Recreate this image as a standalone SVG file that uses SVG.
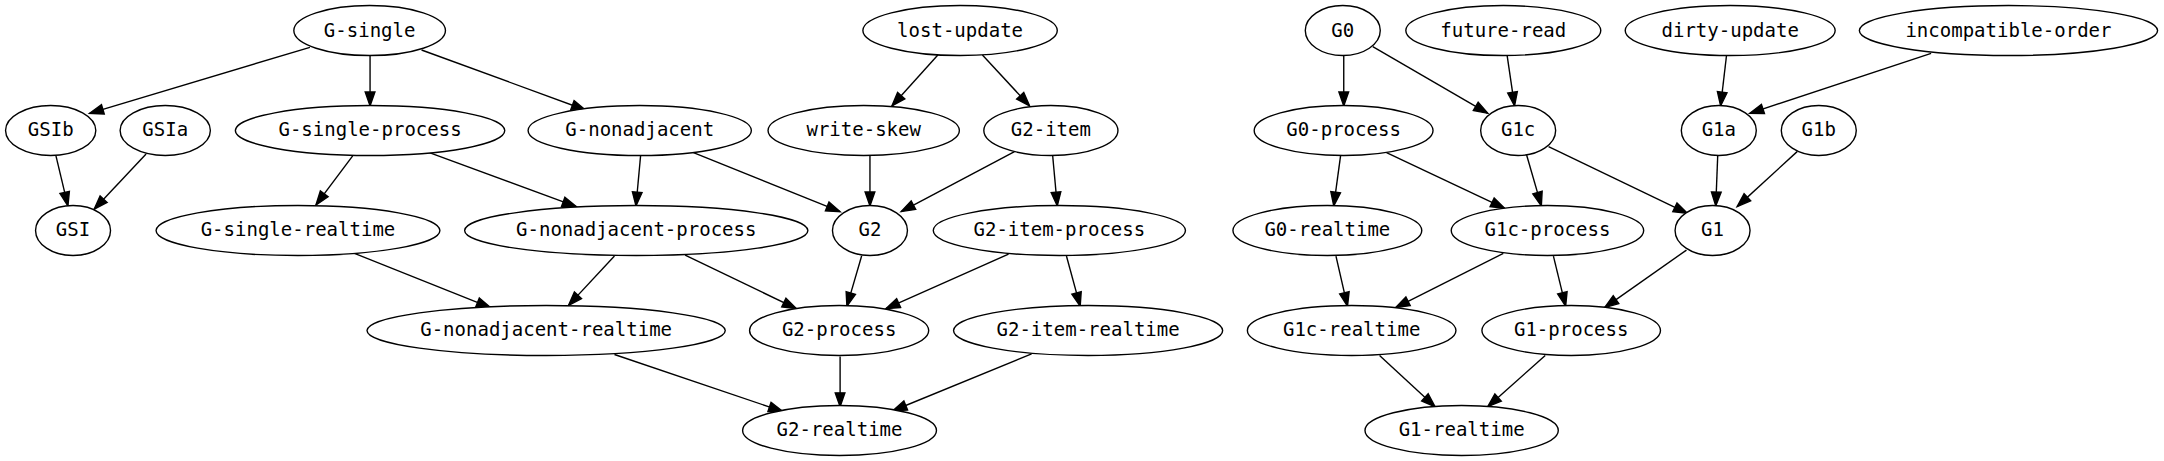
<svg xmlns="http://www.w3.org/2000/svg" width="2164" height="461" viewBox="0 0 2164 461">
<defs>
<marker id="ah" markerUnits="userSpaceOnUse" markerWidth="12" markerHeight="10" refX="10" refY="0" viewBox="0 -5 12 10" orient="auto" overflow="visible">
<path d="M0,-3.5 L10,0 L0,3.5 Z" fill="#000" stroke="#000" stroke-width="1"/>
</marker>
</defs>
<style>
ellipse{fill:#fff;stroke:#000;stroke-width:1}
text{font-family:"DejaVu Sans Mono","Liberation Mono",monospace;font-size:13.7px;text-anchor:middle;fill:#000}
.e line{stroke:#000;stroke-width:1;marker-end:url(#ah)}
</style>
<rect width="2164" height="461" fill="#fff"/>
<g transform="scale(1.3886)">
<g class="e" id="connectors">
<line x1="223.2" y1="34.1" x2="64.5" y2="81.6"/>
<line x1="266.5" y1="40.3" x2="266.5" y2="76.3"/>
<line x1="303.6" y1="36" x2="421.6" y2="79.2"/>
<line x1="40.3" y1="112.3" x2="48.9" y2="148.3"/>
<line x1="105.2" y1="110.9" x2="67.8" y2="150.7"/>
<line x1="254" y1="112.3" x2="227.5" y2="147.6"/>
<line x1="309.2" y1="109.9" x2="415" y2="148.8"/>
<line x1="461.3" y1="112.3" x2="458" y2="148.3"/>
<line x1="499.4" y1="109.9" x2="605" y2="152.4"/>
<line x1="675.4" y1="39.6" x2="642.3" y2="76.3"/>
<line x1="707.5" y1="39.6" x2="741.5" y2="76.3"/>
<line x1="626.5" y1="111.6" x2="626.5" y2="148.3"/>
<line x1="730.6" y1="109.2" x2="649" y2="152.4"/>
<line x1="758.1" y1="112.3" x2="761.4" y2="148.3"/>
<line x1="255.3" y1="182.5" x2="353.2" y2="221.5"/>
<line x1="442.5" y1="184.4" x2="409.4" y2="219.9"/>
<line x1="493.4" y1="183.7" x2="573.5" y2="222.3"/>
<line x1="620.5" y1="184.4" x2="609.9" y2="220.6"/>
<line x1="726.3" y1="183" x2="638" y2="222.3"/>
<line x1="768" y1="184.4" x2="777.9" y2="220.6"/>
<line x1="442.5" y1="255.3" x2="563.6" y2="296.3"/>
<line x1="605" y1="256.7" x2="605" y2="292.9"/>
<line x1="742.9" y1="254.8" x2="643" y2="295.8"/>
<line x1="967.7" y1="40.3" x2="967.7" y2="76.3"/>
<line x1="988.6" y1="33.6" x2="1071.4" y2="81.6"/>
<line x1="1085.4" y1="40.3" x2="1090.7" y2="76.3"/>
<line x1="1243.3" y1="40.3" x2="1239.1" y2="76.3"/>
<line x1="1390.7" y1="38.4" x2="1260.1" y2="81.6"/>
<line x1="965.4" y1="112.3" x2="960.5" y2="148.3"/>
<line x1="998.5" y1="109.9" x2="1083.6" y2="150"/>
<line x1="1099.4" y1="111.6" x2="1110" y2="148.3"/>
<line x1="1115.2" y1="105.6" x2="1215.2" y2="153.6"/>
<line x1="1237" y1="112.3" x2="1235.6" y2="148.3"/>
<line x1="1294.2" y1="109.2" x2="1251" y2="148.8"/>
<line x1="962.1" y1="184.4" x2="970.4" y2="220.6"/>
<line x1="1082.6" y1="182.5" x2="1005.1" y2="221.5"/>
<line x1="1118.7" y1="184.4" x2="1127.5" y2="220.6"/>
<line x1="1214.5" y1="180.1" x2="1155.6" y2="221.5"/>
<line x1="993.5" y1="256" x2="1033.5" y2="292.9"/>
<line x1="1112.8" y1="256" x2="1071.4" y2="292.9"/>
</g>
<g id="G-single"><ellipse cx="266.2" cy="22" rx="54.6" ry="18"/><text x="266.2" y="26.3">G-single</text></g>
<g id="lost-update"><ellipse cx="691.4" cy="22" rx="70" ry="18"/><text x="691.4" y="26.3">lost-update</text></g>
<g id="G0"><ellipse cx="967" cy="22" rx="27" ry="18"/><text x="967" y="26.3">G0</text></g>
<g id="future-read"><ellipse cx="1082.6" cy="22" rx="70.2" ry="18"/><text x="1082.6" y="26.3">future-read</text></g>
<g id="dirty-update"><ellipse cx="1246" cy="22" rx="75.6" ry="18"/><text x="1246" y="26.3">dirty-update</text></g>
<g id="incompatible-order"><ellipse cx="1446.4" cy="22" rx="107.4" ry="18"/><text x="1446.4" y="26.3">incompatible-order</text></g>
<g id="GSIb"><ellipse cx="36.5" cy="94" rx="32.5" ry="18"/><text x="36.5" y="98.3">GSIb</text></g>
<g id="GSIa"><ellipse cx="119" cy="94" rx="32.5" ry="18"/><text x="119" y="98.3">GSIa</text></g>
<g id="G-single-process"><ellipse cx="266.5" cy="94" rx="97" ry="18"/><text x="266.5" y="98.3">G-single-process</text></g>
<g id="G-nonadjacent"><ellipse cx="460.7" cy="94" rx="80.4" ry="18"/><text x="460.7" y="98.3">G-nonadjacent</text></g>
<g id="write-skew"><ellipse cx="622" cy="94" rx="68.9" ry="18"/><text x="622" y="98.3">write-skew</text></g>
<g id="G2-item"><ellipse cx="756.8" cy="94" rx="48.3" ry="18"/><text x="756.8" y="98.3">G2-item</text></g>
<g id="G0-process"><ellipse cx="967.6" cy="94" rx="64.4" ry="18"/><text x="967.6" y="98.3">G0-process</text></g>
<g id="G1c"><ellipse cx="1093.3" cy="94" rx="27" ry="18"/><text x="1093.3" y="98.3">G1c</text></g>
<g id="G1a"><ellipse cx="1237.8" cy="94" rx="27" ry="18"/><text x="1237.8" y="98.3">G1a</text></g>
<g id="G1b"><ellipse cx="1309.8" cy="94" rx="27" ry="18"/><text x="1309.8" y="98.3">G1b</text></g>
<g id="GSI"><ellipse cx="52.6" cy="166" rx="27" ry="18"/><text x="52.6" y="170.3">GSI</text></g>
<g id="G-single-realtime"><ellipse cx="214.6" cy="166" rx="102.2" ry="18"/><text x="214.6" y="170.3">G-single-realtime</text></g>
<g id="G-nonadjacent-process"><ellipse cx="458.2" cy="166" rx="123.6" ry="18"/><text x="458.2" y="170.3">G-nonadjacent-process</text></g>
<g id="G2"><ellipse cx="626.5" cy="166" rx="27" ry="18"/><text x="626.5" y="170.3">G2</text></g>
<g id="G2-item-process"><ellipse cx="762.9" cy="166" rx="90.8" ry="18"/><text x="762.9" y="170.3">G2-item-process</text></g>
<g id="G0-realtime"><ellipse cx="955.9" cy="166" rx="68" ry="18"/><text x="955.9" y="170.3">G0-realtime</text></g>
<g id="G1c-process"><ellipse cx="1114.4" cy="166" rx="69.3" ry="18"/><text x="1114.4" y="170.3">G1c-process</text></g>
<g id="G1"><ellipse cx="1233.3" cy="166" rx="27" ry="18"/><text x="1233.3" y="170.3">G1</text></g>
<g id="G-nonadjacent-realtime"><ellipse cx="393.3" cy="238" rx="129" ry="18"/><text x="393.3" y="242.3">G-nonadjacent-realtime</text></g>
<g id="G2-process"><ellipse cx="604.3" cy="238" rx="64.5" ry="18"/><text x="604.3" y="242.3">G2-process</text></g>
<g id="G2-item-realtime"><ellipse cx="783.6" cy="238" rx="96.9" ry="18"/><text x="783.6" y="242.3">G2-item-realtime</text></g>
<g id="G1c-realtime"><ellipse cx="973.4" cy="238" rx="75.1" ry="18"/><text x="973.4" y="242.3">G1c-realtime</text></g>
<g id="G1-process"><ellipse cx="1131.5" cy="238" rx="64.3" ry="18"/><text x="1131.5" y="242.3">G1-process</text></g>
<g id="G2-realtime"><ellipse cx="604.6" cy="310" rx="69.8" ry="18"/><text x="604.6" y="314.3">G2-realtime</text></g>
<g id="G1-realtime"><ellipse cx="1052.6" cy="310" rx="69.6" ry="18"/><text x="1052.6" y="314.3">G1-realtime</text></g>
</g>
</svg>
